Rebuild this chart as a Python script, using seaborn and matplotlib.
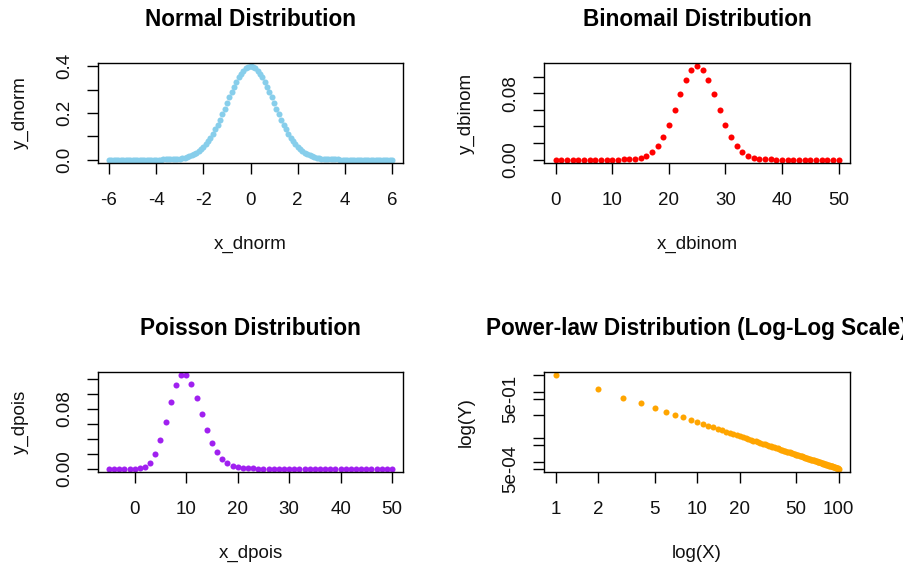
import matplotlib
matplotlib.use("Agg")
import matplotlib.pyplot as plt
import seaborn as sns

# ---- data -------------------------------------------------------------
x_dnorm = [
    -6.0, -5.9, -5.8, -5.7, -5.6, -5.5, -5.4, -5.3, -5.2, -5.1,
    -5.0, -4.9, -4.8, -4.7, -4.6, -4.5, -4.4, -4.3, -4.2, -4.1,
    -4.0, -3.9, -3.8, -3.7, -3.6, -3.5, -3.4, -3.3, -3.2, -3.1,
    -3.0, -2.9, -2.8, -2.7, -2.6, -2.5, -2.4, -2.3, -2.2, -2.1,
    -2.0, -1.9, -1.8, -1.7, -1.6, -1.5, -1.4, -1.3, -1.2, -1.1,
    -1.0, -0.9, -0.8, -0.7, -0.6, -0.5, -0.4, -0.3, -0.2, -0.1,
    0.0,
    0.1, 0.2, 0.3, 0.4, 0.5, 0.6, 0.7, 0.8, 0.9, 1.0,
    1.1, 1.2, 1.3, 1.4, 1.5, 1.6, 1.7, 1.8, 1.9, 2.0,
    2.1, 2.2, 2.3, 2.4, 2.5, 2.6, 2.7, 2.8, 2.9, 3.0,
    3.1, 3.2, 3.3, 3.4, 3.5, 3.6, 3.7, 3.8, 3.9, 4.0,
    4.1, 4.2, 4.3, 4.4, 4.5, 4.6, 4.7, 4.8, 4.9, 5.0,
    5.1, 5.2, 5.3, 5.4, 5.5, 5.6, 5.7, 5.8, 5.9, 6.0,
]
y_dnorm = [
    0.0, 0.0, 0.0, 0.0, 0.0, 0.0, 0.0, 0.0, 0.0, 0.0,
    0.0, 0.0, 0.0, 0.00001, 0.00001, 0.00002, 0.00002, 0.00004, 0.00006, 0.00009,
    0.00013, 0.00020, 0.00029, 0.00042, 0.00061, 0.00087, 0.00123, 0.00172, 0.00238, 0.00327,
    0.00443, 0.00595, 0.00792, 0.01042, 0.01358, 0.01753, 0.02239, 0.02833, 0.03547, 0.04398,
    0.05399, 0.06562, 0.07895, 0.09405, 0.11092, 0.12952, 0.14973, 0.17137, 0.19419, 0.21785,
    0.24197, 0.26609, 0.28969, 0.31225, 0.33322, 0.35207, 0.36827, 0.38139, 0.39104, 0.39695,
    0.39894,
    0.39695, 0.39104, 0.38139, 0.36827, 0.35207, 0.33322, 0.31225, 0.28969, 0.26609, 0.24197,
    0.21785, 0.19419, 0.17137, 0.14973, 0.12952, 0.11092, 0.09405, 0.07895, 0.06562, 0.05399,
    0.04398, 0.03547, 0.02833, 0.02239, 0.01753, 0.01358, 0.01042, 0.00792, 0.00595, 0.00443,
    0.00327, 0.00238, 0.00172, 0.00123, 0.00087, 0.00061, 0.00042, 0.00029, 0.00020, 0.00013,
    0.00009, 0.00006, 0.00004, 0.00002, 0.00002, 0.00001, 0.00001, 0.0, 0.0, 0.0,
    0.0, 0.0, 0.0, 0.0, 0.0, 0.0, 0.0, 0.0, 0.0, 0.0,
]

x_dbinom = list(range(0, 51))
y_dbinom = [
    0.0, 0.0, 0.0, 0.0, 0.0, 0.0, 0.0, 0.0, 0.0, 0.0,
    0.00001, 0.00003, 0.00011, 0.00032, 0.00083, 0.00200, 0.00437, 0.00875, 0.01604, 0.02701,
    0.04186, 0.05980, 0.07883, 0.09597, 0.10796, 0.11228, 0.10796, 0.09597, 0.07883, 0.05980,
    0.04186, 0.02701, 0.01604, 0.00875, 0.00437, 0.00200, 0.00083, 0.00032, 0.00011, 0.00003,
    0.00001, 0.0, 0.0, 0.0, 0.0, 0.0, 0.0, 0.0, 0.0, 0.0,
    0.0,
]

x_dpois = list(range(-5, 51))
y_dpois = [
    0.0, 0.0, 0.0, 0.0, 0.0,
    0.00005, 0.00045, 0.00227, 0.00757, 0.01892, 0.03783, 0.06306, 0.09008, 0.11260, 0.12511,
    0.12511, 0.11374, 0.09478, 0.07291, 0.05208, 0.03472, 0.02170, 0.01276, 0.00709, 0.00373,
    0.00187, 0.00089, 0.00040, 0.00018, 0.00007, 0.00003, 0.00001, 0.0, 0.0, 0.0,
    0.0, 0.0, 0.0, 0.0, 0.0, 0.0, 0.0, 0.0, 0.0, 0.0,
    0.0, 0.0, 0.0, 0.0, 0.0, 0.0, 0.0, 0.0, 0.0, 0.0,
    0.0,
]

x_power = list(range(1, 101))
y_power = [
    5.0, 1.25, 0.55556, 0.3125, 0.2, 0.13889, 0.10204, 0.078125, 0.061728, 0.05,
    0.041322, 0.034722, 0.029586, 0.02551, 0.022222, 0.019531, 0.017301, 0.015432, 0.01385, 0.0125,
    0.011338, 0.010331, 0.009452, 0.008681, 0.008, 0.007396, 0.006859, 0.006378, 0.005945, 0.005556,
    0.005203, 0.004883, 0.004591, 0.004325, 0.004082, 0.003858, 0.003652, 0.003463, 0.003287, 0.003125,
    0.002974, 0.002834, 0.002704, 0.002583, 0.002469, 0.002363, 0.002263, 0.00217, 0.002082, 0.002,
    0.001922, 0.001849, 0.00178, 0.001715, 0.001653, 0.001594, 0.001539, 0.001486, 0.001436, 0.001389,
    0.001344, 0.001301, 0.00126, 0.001221, 0.001183, 0.001148, 0.001114, 0.001081, 0.00105, 0.00102,
    0.000992, 0.000965, 0.000938, 0.000913, 0.000889, 0.000866, 0.000843, 0.000822, 0.000801, 0.000781,
    0.000762, 0.000744, 0.000726, 0.000709, 0.000692, 0.000676, 0.000661, 0.000646, 0.000631, 0.000617,
    0.000604, 0.000591, 0.000578, 0.000566, 0.000554, 0.000543, 0.000531, 0.000521, 0.00051, 0.0005,
]

# tick positions and labels (only some of the ticks carry text)
norm_xticks = [-6, -4, -2, 0, 2, 4, 6]
norm_yticks = [0.0, 0.1, 0.2, 0.3, 0.4]
norm_ylabels = ["0.0", "", "0.2", "", "0.4"]
binom_xticks = [0, 10, 20, 30, 40, 50]
binom_yticks = [0.0, 0.02, 0.04, 0.06, 0.08, 0.10]
binom_ylabels = ["0.00", "", "", "", "0.08", ""]
pois_xticks = [0, 10, 20, 30, 40, 50]
pois_yticks = [0.0, 0.02, 0.04, 0.06, 0.08, 0.10, 0.12]
pois_ylabels = ["0.00", "", "", "", "0.08", "", ""]
power_xticks = [1, 2, 5, 10, 20, 50, 100]
power_xlabels = ["1", "2", "5", "10", "20", "50", "100"]
power_yticks = [5, 1, 0.5, 0.1, 0.01, 0.005, 0.001, 0.0005]
power_ylabels = ["", "", "5e-01", "", "", "", "", "5e-04"]

# ---- style ------------------------------------------------------------
sns.set_theme(style="ticks")
plt.rcParams["font.family"] = ["Liberation Sans", "DejaVu Sans"]
plt.rcParams["axes.unicode_minus"] = False
plt.rcParams["axes.edgecolor"] = "black"
plt.rcParams["axes.linewidth"] = 1.0

W, H = 904, 569
fig = plt.figure(figsize=(W / 100, H / 100), dpi=100)
fig.patch.set_facecolor("white")

BOX_W, BOX_H = 305.7, 100.6


def make_axes(left_px, top_px):
    return fig.add_axes([left_px / W, 1 - (top_px + BOX_H) / H, BOX_W / W, BOX_H / H])


def pad_range(lo, hi, frac=0.04):
    d = (hi - lo) * frac
    return lo - d, hi + d


def style_axes(ax, title, xlabel, ylabel):
    for side in ("top", "right", "left", "bottom"):
        ax.spines[side].set_visible(True)
        ax.spines[side].set_color("black")
        ax.spines[side].set_linewidth(1.0)
    ax.tick_params(axis="both", which="major", direction="out", length=7.9,
                   width=1.0, color="black", labelsize=13.5, labelcolor="#111111",
                   top=False, right=False)
    ax.tick_params(axis="x", pad=13.0)
    ax.tick_params(axis="y", pad=10.0, labelrotation=90)
    ax.tick_params(which="minor", length=0)
    for lab in ax.get_yticklabels():
        lab.set_va("center")
    ax.set_title(title, fontsize=16.3, fontweight="bold", pad=26.4, color="black")
    ax.set_xlabel(xlabel, fontsize=13.5, color="#111111")
    ax.set_ylabel(ylabel, fontsize=13.5, color="#111111")
    ax.xaxis.set_label_coords(0.5, -0.72)
    ax.yaxis.set_label_coords(-0.226, 0.5)
    ax.grid(False)


DOT = 19

# Normal
ax1 = make_axes(97.7, 62.7)
sns.scatterplot(x=x_dnorm, y=y_dnorm, ax=ax1, color="#87CEEB", s=DOT, linewidth=0)
ax1.set_xlim(*pad_range(min(x_dnorm), max(x_dnorm)))
ax1.set_ylim(*pad_range(min(y_dnorm), max(y_dnorm)))
ax1.set_xticks(norm_xticks, [str(t) for t in norm_xticks])
ax1.set_yticks(norm_yticks, norm_ylabels)
style_axes(ax1, "Normal Distribution", "x_dnorm", "y_dnorm")

# Binomial
ax2 = make_axes(544.3, 62.7)
sns.scatterplot(x=x_dbinom, y=y_dbinom, ax=ax2, color="#FF0000", s=DOT, linewidth=0)
ax2.set_xlim(*pad_range(min(x_dbinom), max(x_dbinom)))
ax2.set_ylim(*pad_range(min(y_dbinom), max(y_dbinom)))
ax2.set_xticks(binom_xticks)
ax2.set_yticks(binom_yticks, binom_ylabels)
style_axes(ax2, "Binomail Distribution", "x_dbinom", "y_dbinom")

# Poisson
ax3 = make_axes(97.7, 371.7)
sns.scatterplot(x=x_dpois, y=y_dpois, ax=ax3, color="#A020F0", s=DOT, linewidth=0)
ax3.set_xlim(*pad_range(min(x_dpois), max(x_dpois)))
ax3.set_ylim(*pad_range(min(y_dpois), max(y_dpois)))
ax3.set_xticks(pois_xticks)
ax3.set_yticks(pois_yticks, pois_ylabels)
style_axes(ax3, "Poisson Distribution", "x_dpois", "y_dpois")

# Power law on log-log axes
ax4 = make_axes(544.3, 371.7)
sns.scatterplot(x=x_power, y=y_power, ax=ax4, color="#FFA500", s=DOT, linewidth=0)
ax4.set_xscale("log")
ax4.set_yscale("log")
lx0, lx1 = pad_range(0.0, 2.0)
ly0, ly1 = pad_range(-3.30103, 0.69897)
ax4.set_xlim(10 ** lx0, 10 ** lx1)
ax4.set_ylim(10 ** ly0, 10 ** ly1)
ax4.set_xticks(power_xticks, power_xlabels)
ax4.set_yticks(power_yticks, power_ylabels)
ax4.minorticks_off()
style_axes(ax4, "Power-law Distribution (Log-Log Scale)", "log(X)", "log(Y)")

fig.savefig("out.png", dpi=100, facecolor="white")
